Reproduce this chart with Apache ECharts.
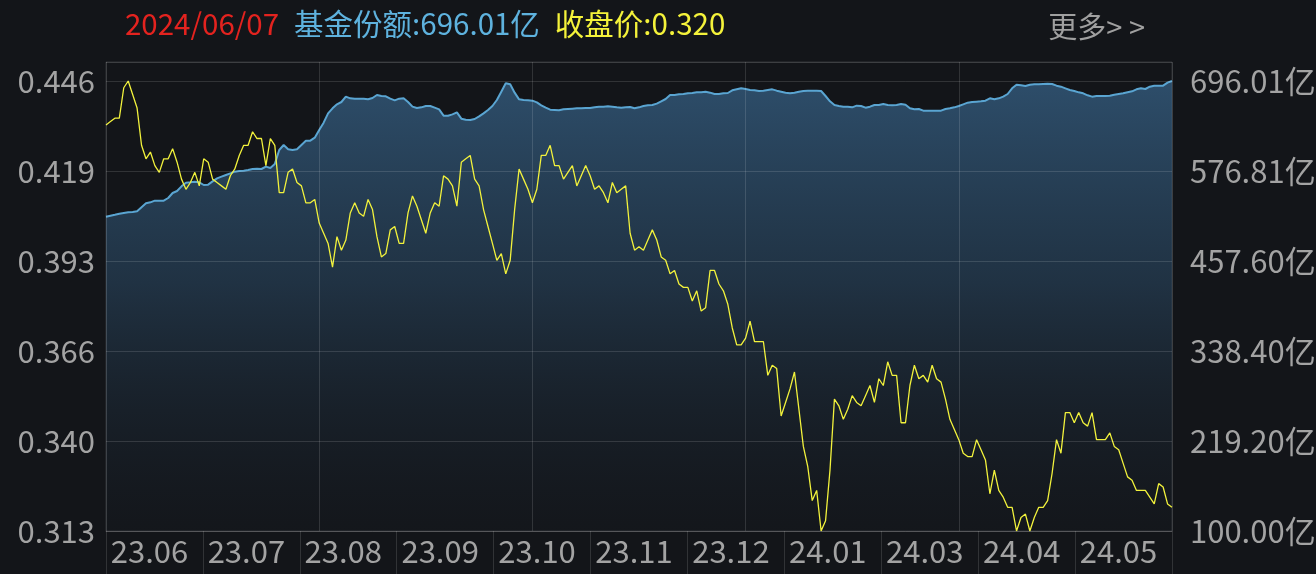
<!DOCTYPE html>
<html>
<head>
<meta charset="utf-8">
<style>
html,body{margin:0;padding:0;background:#131519;}
#chart{width:1316px;height:574px;}
</style>
<script src="https://cdn.jsdelivr.net/npm/echarts@6/dist/echarts.min.js"></script>
</head>
<body>
<div id="chart"></div>
<script>
// ---- data ----
const lastDate = '2024/06/07';
const monthLabels = ['23.06','23.07','23.08','23.09','23.10','23.11','23.12','24.01','24.03','24.04','24.05'];
const leftTicks = ['0.313','0.340','0.366','0.393','0.419','0.446'];
const rightTicks = ['100.00亿','219.20亿','338.40亿','457.60亿','576.81亿','696.01亿'];
const closePrice = [
0.433,0.434,0.435,0.435,0.444,0.446,0.442,0.438,0.427,0.423,
0.425,0.421,0.419,0.423,0.423,0.426,0.422,0.417,0.414,0.416,
0.419,0.415,0.423,0.422,0.417,0.416,0.415,0.414,0.418,0.420,
0.424,0.427,0.427,0.431,0.429,0.429,0.421,0.429,0.427,0.413,
0.413,0.419,0.420,0.416,0.415,0.410,0.410,0.411,0.404,0.401,
0.398,0.391,0.400,0.396,0.399,0.407,0.410,0.407,0.406,0.411,
0.408,0.400,0.394,0.395,0.402,0.403,0.398,0.398,0.407,0.412,
0.409,0.405,0.401,0.407,0.410,0.409,0.418,0.417,0.415,0.409,
0.422,0.423,0.424,0.417,0.415,0.408,0.403,0.398,0.393,0.395,
0.389,0.393,0.408,0.420,0.417,0.414,0.410,0.414,0.424,0.424,
0.427,0.421,0.421,0.417,0.419,0.421,0.415,0.418,0.421,0.418,
0.414,0.415,0.413,0.410,0.416,0.413,0.414,0.415,0.401,0.396,
0.397,0.396,0.399,0.402,0.399,0.394,0.393,0.389,0.390,0.386,
0.385,0.385,0.381,0.384,0.378,0.379,0.390,0.390,0.386,0.384,
0.380,0.373,0.368,0.368,0.370,0.375,0.369,0.369,0.369,0.359,
0.362,0.361,0.347,0.351,0.355,0.360,0.349,0.338,0.332,0.322,
0.325,0.313,0.316,0.331,0.352,0.350,0.346,0.349,0.353,0.351,
0.350,0.353,0.356,0.351,0.358,0.356,0.363,0.359,0.359,0.345,
0.345,0.356,0.362,0.358,0.359,0.357,0.362,0.358,0.357,0.352,
0.346,0.343,0.340,0.336,0.335,0.335,0.340,0.337,0.334,0.324,
0.331,0.325,0.323,0.320,0.320,0.313,0.317,0.318,0.313,0.317,
0.320,0.320,0.322,0.330,0.340,0.336,0.348,0.348,0.345,0.348,
0.345,0.344,0.348,0.340,0.340,0.340,0.342,0.338,0.337,0.333,
0.329,0.328,0.325,0.325,0.325,0.323,0.321,0.327,0.326,0.321,0.320
];
const fundShare = [
516.32,517.65,518.97,520.30,521.18,522.06,522.50,523.39,528.69,533.98,
535.31,537.52,537.52,537.52,541.05,547.67,550.32,556.50,561.36,561.80,
562.68,561.80,558.27,558.71,563.12,567.09,569.30,571.51,573.72,575.92,
576.81,577.25,578.13,579.46,579.90,579.46,582.55,580.78,586.08,604.62,
611.24,605.50,604.62,605.50,611.24,616.98,616.98,620.96,631.11,640.82,
653.19,659.81,665.11,668.20,675.26,673.05,672.61,672.61,672.61,671.73,
673.49,677.47,676.14,675.70,672.61,670.40,672.61,673.05,668.20,662.02,
660.25,661.13,662.90,662.90,660.69,658.48,650.09,650.09,651.86,654.51,
646.12,644.80,644.36,645.68,649.21,653.19,657.60,662.90,670.85,681.88,
692.92,691.60,680.56,671.73,670.85,670.40,669.96,667.75,663.78,660.69,
658.04,657.60,657.16,658.48,658.92,659.37,659.81,659.81,660.25,660.25,
661.13,662.02,662.02,662.46,662.02,661.13,660.69,661.13,661.57,659.81,
661.13,662.90,663.78,664.22,665.99,669.08,672.17,677.47,677.47,678.35,
678.79,679.67,680.12,681.00,681.00,681.88,680.56,678.79,678.79,679.67,
680.12,683.65,684.97,686.30,685.41,684.09,683.65,682.77,683.21,684.09,
684.97,683.21,681.88,680.56,679.67,680.56,681.88,682.77,683.21,683.21,
683.21,682.77,676.14,669.08,664.22,662.90,662.02,662.02,661.13,663.34,
662.90,660.69,662.02,664.22,664.22,665.55,664.22,663.78,664.22,665.55,
664.66,659.81,658.48,658.92,656.72,656.72,656.72,656.72,656.72,658.92,
659.81,661.13,662.90,665.11,667.31,668.20,668.64,669.08,669.96,673.05,
671.73,673.05,675.26,678.79,686.30,691.15,690.27,689.39,691.15,691.60,
691.60,692.04,692.48,692.04,689.83,688.50,686.30,684.09,682.77,681.00,
679.67,677.03,675.26,676.14,676.14,676.14,676.58,677.91,678.79,679.67,
681.00,682.32,684.97,686.30,685.41,688.50,689.83,689.83,689.83,693.80,696.01
];

// ---- chart ----
const FONT = '"Noto Sans CJK SC", "Noto Sans", sans-serif';
const gridColor = 'rgba(255,255,255,0.13)';
const labelColor = '#a3a3a3';
const plotTop = 62, plotBottom = 531, H = 574;
const stepPx = 90; // one tick interval in px
const ratio = (plotBottom - plotTop) / stepPx;
const lMin = 0.313, lInt = 0.0266;
const rMin = 100, rInt = 119.202;
const dayIdx = closePrice.map((v, i) => i);
const HF = 29.5;

const chart = echarts.init(document.getElementById('chart'), null, {renderer: 'canvas'});
chart.setOption({
  backgroundColor: '#131519',
  animation: false,
  title: [{
    left: 120, top: 4,
    text: '{d|' + lastDate + '}{s| }{b|基金份额:' + fundShare[fundShare.length-1].toFixed(2) + '亿}{s| }{y|收盘价:' + closePrice[closePrice.length-1].toFixed(3) + '}',
    textStyle: {
      fontFamily: FONT, fontWeight: 'normal',
      rich: {
        d: {color: '#e3231f', fontSize: HF, fontFamily: FONT, fontWeight: 'normal'},
        s: {width: 15, fontSize: HF},
        b: {color: '#5eb2de', fontSize: HF, fontFamily: FONT, fontWeight: 'normal'},
        y: {color: '#f4f23a', fontSize: HF, fontFamily: FONT, fontWeight: 'normal'}
      }
    }
  }, {
    right: 166, top: 7,
    text: '更多> >',
    textStyle: {color: '#a0a0a0', fontSize: 29, fontWeight: 'normal', fontFamily: FONT}
  }],
  grid: {
    left: 106, right: 1316 - 1172, top: plotTop, bottom: H - plotBottom,
    containLabel: false, outerBoundsMode: 'none',
    show: true, borderColor: gridColor, borderWidth: 1, backgroundColor: 'transparent'
  },
  xAxis: [{
    type: 'category', data: dayIdx, boundaryGap: false, position: 'bottom', z: 5,
    axisLine: {show: false}, axisTick: {show: false}, axisLabel: {show: false},
    splitLine: {show: true, interval: (idx) => idx % 48 === 0, lineStyle: {color: gridColor, width: 1}}
  }, {
    type: 'category', data: monthLabels, boundaryGap: true, position: 'bottom', z: 5,
    axisLine: {show: true, lineStyle: {color: gridColor}},
    axisTick: {show: true, interval: 0, length: H - plotBottom, lineStyle: {color: gridColor}},
    axisLabel: {color: labelColor, fontSize: 31, fontFamily: FONT, margin: 5, interval: 0, padding: [0, 10, 0, 0]},
    splitLine: {show: false}
  }],
  yAxis: [{
    type: 'value', position: 'left', z: 5,
    min: lMin, max: lMin + lInt * ratio, interval: lInt,
    axisLine: {show: false}, axisTick: {show: false},
    splitLine: {show: true, lineStyle: {color: gridColor, width: 1}},
    axisLabel: {
      color: labelColor, fontSize: 31, fontFamily: FONT, margin: 11, showMaxLabel: false,
      formatter: (v) => { const k = Math.round((v - lMin) / lInt); return leftTicks[k] || ''; }
    }
  }, {
    type: 'value', position: 'right', z: 5,
    min: rMin, max: rMin + rInt * ratio, interval: rInt,
    axisLine: {show: false}, axisTick: {show: false}, splitLine: {show: false},
    axisLabel: {
      color: labelColor, fontSize: 31, fontFamily: FONT, margin: 18, showMaxLabel: false,
      formatter: (v) => { const k = Math.round((v - rMin) / rInt); return rightTicks[k] || ''; }
    }
  }],
  series: [{
    name: '基金份额', type: 'line', xAxisIndex: 0, yAxisIndex: 1, data: fundShare,
    symbol: 'none', smooth: false, z: 2,
    lineStyle: {color: '#5aa5d2', width: 2},
    areaStyle: {
      color: new echarts.graphic.LinearGradient(0, 0, 0, 1, [
        {offset: 0, color: 'rgba(66,122,170,0.8)'},
        {offset: 0.45, color: 'rgba(50,90,125,0.6)'},
        {offset: 1, color: 'rgba(30,45,60,0.1)'}
      ])
    }
  }, {
    name: '收盘价', type: 'line', xAxisIndex: 0, yAxisIndex: 0, data: closePrice,
    symbol: 'none', smooth: false, z: 3,
    lineStyle: {color: '#f2f23c', width: 1.3}
  }]
});
</script>
</body>
</html>
